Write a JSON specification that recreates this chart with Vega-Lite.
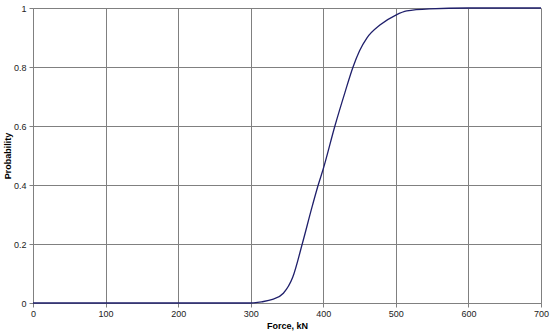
{
  "$schema": "https://vega.github.io/schema/vega-lite/v6.json",
  "autosize": "none",
  "width": 508,
  "height": 295,
  "padding": {"left": 33, "top": 8, "right": 9, "bottom": 31},
  "background": "white",
  "config": {
    "view": {"stroke": null},
    "font": "Liberation Sans",
    "axis": {
      "labelFont": "Liberation Sans",
      "titleFont": "Liberation Sans",
      "labelFontSize": 9,
      "titleFontSize": 9,
      "labelColor": "#222",
      "titleColor": "#000",
      "titleFontWeight": "bold",
      "gridColor": "#808080",
      "gridOpacity": 1,
      "gridWidth": 1,
      "domainColor": "#808080",
      "tickColor": "#808080",
      "tickSize": 4
    }
  },
  "data": {
    "values": [
      {"force": 0, "p": 0},
      {"force": 300, "p": 0},
      {"force": 315, "p": 0.004},
      {"force": 330, "p": 0.012},
      {"force": 345, "p": 0.033},
      {"force": 358, "p": 0.088},
      {"force": 371, "p": 0.2},
      {"force": 385, "p": 0.33},
      {"force": 393, "p": 0.4},
      {"force": 400, "p": 0.455},
      {"force": 416, "p": 0.6},
      {"force": 430, "p": 0.715},
      {"force": 441, "p": 0.8},
      {"force": 450, "p": 0.855},
      {"force": 460, "p": 0.898},
      {"force": 478, "p": 0.942},
      {"force": 500, "p": 0.976},
      {"force": 515, "p": 0.99},
      {"force": 546, "p": 0.997},
      {"force": 600, "p": 1.0},
      {"force": 700, "p": 1.0}
    ]
  },
  "mark": {"type": "line", "color": "#1f1f6b", "strokeWidth": 1.3, "interpolate": "monotone", "clip": false},
  "encoding": {
    "x": {
      "field": "force", "type": "quantitative",
      "scale": {"domain": [0, 700], "nice": false},
      "axis": {"values": [0, 100, 200, 300, 400, 500, 600, 700], "title": "Force, kN", "titlePadding": 3, "labelPadding": 2, "labelFlush": false}
    },
    "y": {
      "field": "p", "type": "quantitative",
      "scale": {"domain": [0, 1], "nice": false},
      "axis": {"values": [0, 0.2, 0.4, 0.6, 0.8, 1], "title": "Probability", "titlePadding": 1, "labelPadding": 3, "labelFlush": false, "format": "~g"}
    }
  }
}
